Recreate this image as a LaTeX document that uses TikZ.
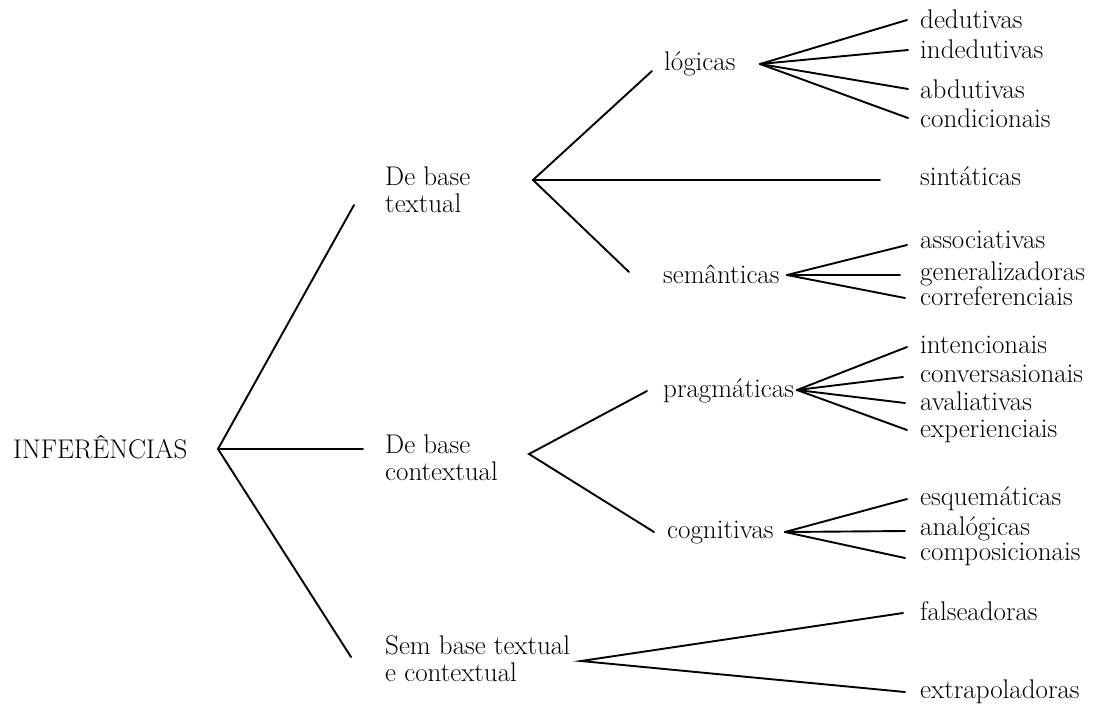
\documentclass[tikz,border=0pt]{standalone}
\usepackage{fontspec}
\begin{document}
\begin{tikzpicture}[x=1pt,y=-1pt,
  lbl/.style={anchor=base west,inner sep=0pt,align=left,font=\fontsize{27}{27}\selectfont},
  br/.style={line width=1.9pt,line cap=round}]
\useasboundingbox (0,0) rectangle (1097,716);
% labels (multi-line nodes: base = last line)
\node[lbl] (inf) at (13,458) {INFERÊNCIAS};
\node[lbl] (dbt) at (385,212) {De base\\textual};
\node[lbl] (dbc) at (385,480) {De base\\contextual};
\node[lbl] (sbt) at (385,681) {Sem base textual\\e contextual};
\node[lbl] (log) at (664,70) {lógicas};
\node[lbl] (sin) at (920,185) {sintáticas};
\node[lbl] (sem) at (663,283) {semânticas};
\node[lbl] (pra) at (663,397) {pragmáticas};
\node[lbl] (cog) at (667,538) {cognitivas};
\node[lbl] (ded) at (920,28) {dedutivas};
\node[lbl] (ind) at (920,58) {indedutivas};
\node[lbl] (abd) at (920,98) {abdutivas};
\node[lbl] (con) at (920,127) {condicionais};
\node[lbl] (ass) at (920,248) {associativas};
\node[lbl] (gen) at (920,280) {generalizadoras};
\node[lbl] (cor) at (920,305) {correferenciais};
\node[lbl] (int) at (920,353) {intencionais};
\node[lbl] (cvs) at (920,382) {conversasionais};
\node[lbl] (ava) at (920,410) {avaliativas};
\node[lbl] (exp) at (920,437) {experienciais};
\node[lbl] (esq) at (920,505) {esquemáticas};
\node[lbl] (ana) at (920,535) {analógicas};
\node[lbl] (cmp) at (920,560) {composicionais};
\node[lbl] (fal) at (920,620) {falseadoras};
\node[lbl] (ext) at (920,698) {extrapoladoras};
% branch points and line ends
\coordinate (root) at (218,449);
\coordinate (r1) at (354,205);
\coordinate (r2) at (363,449);
\coordinate (r3) at (351,657);
\coordinate (tb) at (533,180);
\coordinate (tb1) at (652,71);
\coordinate (tb2) at (880,180);
\coordinate (tb3) at (629,272);
\coordinate (lf) at (760,64);
\coordinate (lf1) at (907,20);
\coordinate (lf2) at (908,50);
\coordinate (lf3) at (908,89);
\coordinate (lf4) at (908,118);
\coordinate (sf) at (787,275);
\coordinate (sf1) at (907,245);
\coordinate (sf2) at (900,275);
\coordinate (sf3) at (905,298);
\coordinate (cb) at (529,454);
\coordinate (cb1) at (647,391);
\coordinate (cb2) at (654,532);
\coordinate (pf) at (797,390);
\coordinate (pf1) at (907,347);
\coordinate (pf2) at (903,377);
\coordinate (pf3) at (905,403);
\coordinate (pf4) at (907,430);
\coordinate (gf) at (785,532);
\coordinate (gf1) at (907,499);
\coordinate (gf2) at (905,531);
\coordinate (gf3) at (905,558);
\coordinate (sb) at (581,661);
\coordinate (sb1) at (903,613);
\coordinate (sb2) at (905,692);
% connectors
\draw[br] (r1) -- (root) -- (r3);
\draw[br] (root) -- (r2);
\draw[br] (tb1) -- (tb) -- (tb3);
\draw[br] (tb) -- (tb2);
\draw[br] (lf) -- (lf1); \draw[br] (lf) -- (lf2);
\draw[br] (lf) -- (lf3); \draw[br] (lf) -- (lf4);
\draw[br] (sf) -- (sf1); \draw[br] (sf) -- (sf2); \draw[br] (sf) -- (sf3);
\draw[br] (cb1) -- (cb) -- (cb2);
\draw[br] (pf) -- (pf1); \draw[br] (pf) -- (pf2);
\draw[br] (pf) -- (pf3); \draw[br] (pf) -- (pf4);
\draw[br] (gf) -- (gf1); \draw[br] (gf) -- (gf2); \draw[br] (gf) -- (gf3);
\draw[br] (sb1) -- (sb) -- (sb2);
\end{tikzpicture}
\end{document}
